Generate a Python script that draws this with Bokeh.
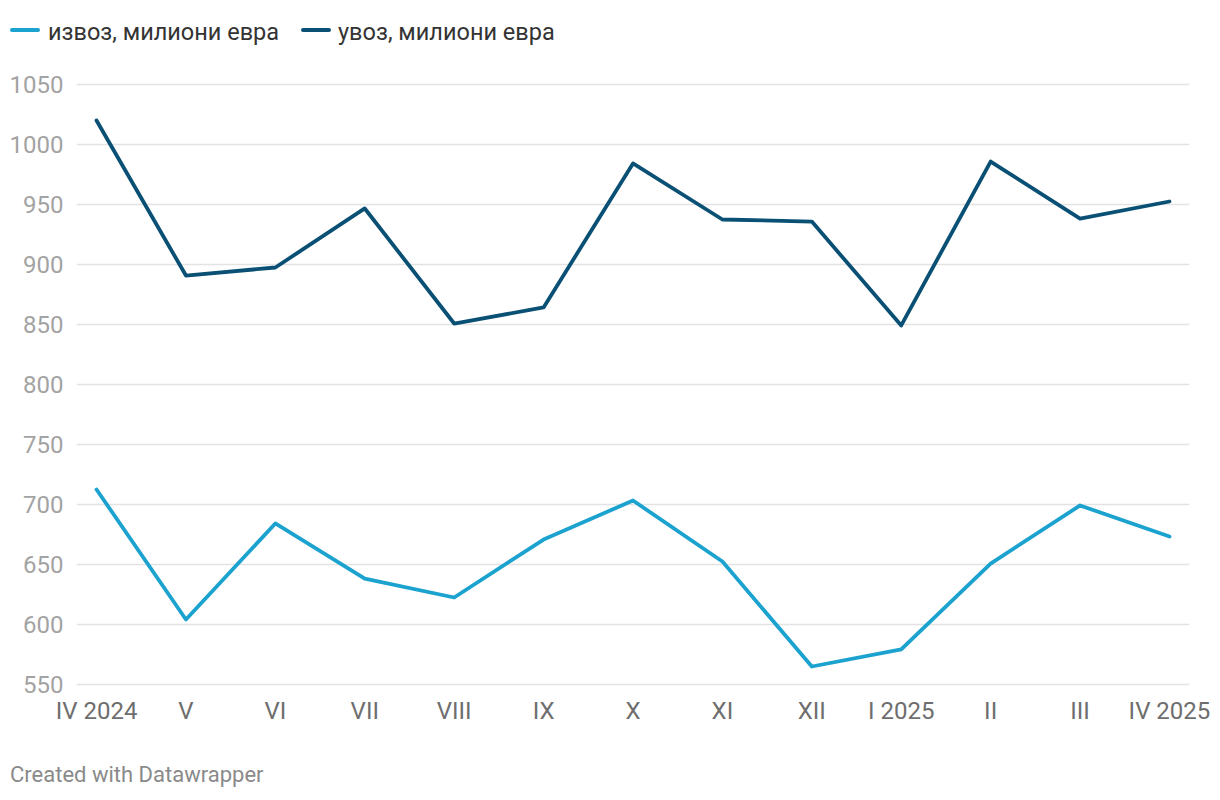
from bokeh.plotting import figure
from bokeh.layouts import column
from bokeh.models import FixedTicker, Range1d, Div
from bokeh.embed import file_html
from bokeh.resources import INLINE

months = ["IV 2024", "V", "VI", "VII", "VIII", "IX", "X", "XI", "XII", "I 2025", "II", "III", "IV 2025"]
izvoz = [712.5, 604.2, 684.2, 638.3, 622.5, 670.8, 703.3, 652.5, 565.0, 579.2, 650.8, 699.2, 673.3]
uvoz = [1020.0, 890.8, 897.5, 946.7, 850.8, 864.2, 984.2, 937.5, 935.8, 849.2, 985.8, 938.3, 952.5]
y_ticks = [550, 600, 650, 700, 750, 800, 850, 900, 950, 1000, 1050]
label_izvoz = "извоз, милиони евра"
label_uvoz = "увоз, милиони евра"
credit = "Created with Datawrapper"

FONT = "Roboto"
C_IZ = "#1ba2cf"
C_UV = "#0a5075"
LW = 3.8

xs = list(range(len(months)))

W = 1212
TOP_H = 60
MAIN_H = 670
FOOT_H = 70

# ---- legend (HTML) ----
def swatch(left, color):
    return (f'<span style="position:absolute;left:{left}px;top:28px;width:30px;height:4px;'
            f'background:{color};border-radius:2px"></span>')

def ltext(left, txt):
    return (f'<span style="position:absolute;left:{left}px;top:18px;line-height:28px;'
            f'white-space:nowrap">{txt}</span>')

leg_html = (f'<div style="position:relative;width:{W}px;height:{TOP_H}px;font-family:Roboto;'
            f'font-size:23.5px;color:#333333">'
            + swatch(10, C_IZ) + ltext(48, label_izvoz)
            + swatch(301, C_UV) + ltext(338, label_uvoz)
            + '</div>')
leg = Div(text=leg_html, width=W, height=TOP_H, margin=0)

# ---- main chart ----
p = figure(width=W, height=MAIN_H, output_backend="svg", toolbar_location=None,
           x_range=Range1d(-0.224, len(months) - 1 + 0.224),
           y_range=Range1d(545, 1055),
           min_border_left=76, min_border_right=W - 1189, min_border_top=18,
           min_border_bottom=MAIN_H - 18 - 612)
p.outline_line_color = None
p.background_fill_color = "white"

p.xgrid.grid_line_color = None
p.ygrid.grid_line_color = "#e3e3e3"
p.ygrid.grid_line_width = 1.5

p.yaxis.ticker = FixedTicker(ticks=y_ticks)
p.xaxis.ticker = FixedTicker(ticks=xs)
p.xaxis.major_label_overrides = {i: m for i, m in enumerate(months)}

for ax in (p.xaxis[0], p.yaxis[0]):
    ax.axis_line_color = None
    ax.major_tick_line_color = None
    ax.minor_tick_line_color = None
    ax.major_tick_out = 0
    ax.major_tick_in = 0
    ax.major_label_text_font = FONT
    ax.major_label_text_font_size = "24px"

p.yaxis.major_label_text_color = "#a3a3a3"
p.yaxis.major_label_standoff = 13
p.xaxis.major_label_text_color = "#6e6e6e"
p.xaxis.major_label_standoff = 6

p.line(xs, izvoz, line_color=C_IZ, line_width=LW, line_join="round", line_cap="round")
p.line(xs, uvoz, line_color=C_UV, line_width=LW, line_join="round", line_cap="round")

# ---- footer (HTML) ----
foot_html = (f'<div style="position:relative;width:{W}px;height:{FOOT_H}px;font-family:Roboto;'
             f'font-size:22px;color:#8a8a8a">'
             f'<span style="position:absolute;left:10px;top:32px;line-height:26px;white-space:nowrap">'
             f'{credit}</span></div>')
foot = Div(text=foot_html, width=W, height=FOOT_H, margin=0)

layout = column(leg, p, foot, spacing=0)
open("out.html", "w").write(file_html(layout, INLINE))
